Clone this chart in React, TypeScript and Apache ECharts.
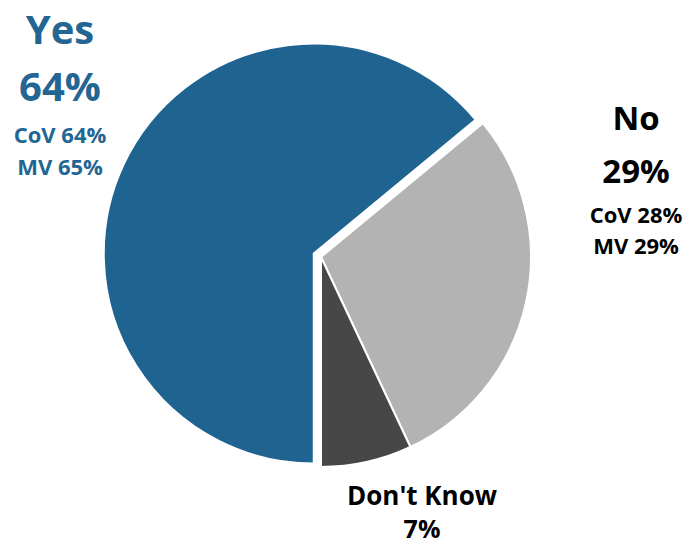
import React, { useEffect, useRef } from "react";
import * as echarts from "echarts";

const categories = ["Yes", "No", "Don't Know"];
const values = [64, 29, 7];
const covValues = [64, 28, null];
const mvValues = [65, 29, null];
const colors = ["#1F6391", "#B3B3B3", "#474747"];
const labelColors = ["#236593", "#000000", "#000000"];

export default function App() {
  const ref = useRef<HTMLDivElement>(null);
  useEffect(() => {
    if (!ref.current) return;
    const chart = echarts.init(ref.current, undefined, { renderer: "svg" });
    const font = "'Open Sans', sans-serif";
    const t = (text: string, x: number, y: number, size: number, color: string) => ({
      type: "text",
      x,
      y,
      style: {
        text,
        fontSize: size,
        fontWeight: "bold",
        fontFamily: font,
        fill: color,
        textAlign: "center",
        textVerticalAlign: "middle",
      },
    });
    const graphics: any[] = [
      t(categories[0], 60, 28, 40, labelColors[0]),
      t(values[0] + "%", 60, 85, 40, labelColors[0]),
      t("CoV " + covValues[0] + "%", 60, 134, 22, labelColors[0]),
      t("MV " + mvValues[0] + "%", 60, 166, 22, labelColors[0]),
      t(categories[1], 636, 117, 33, labelColors[1]),
      t(values[1] + "%", 636, 170, 33, labelColors[1]),
      t("CoV " + covValues[1] + "%", 636, 214, 22, labelColors[1]),
      t("MV " + mvValues[1] + "%", 636, 245, 22, labelColors[1]),
      t(categories[2], 422, 495, 26, labelColors[2]),
      t(values[2] + "%", 422, 528, 25, labelColors[2]),
    ];
    chart.setOption({
      animation: false,
      graphic: graphics,
      series: [
        {
          type: "pie",
          center: [321, 257],
          radius: [0, 210],
          startAngle: 270,
          clockwise: true,
          selectedMode: "multiple",
          selectedOffset: 8,
          label: { show: false },
          labelLine: { show: false },
          emphasis: { disabled: true },
          itemStyle: { borderColor: "#ffffff", borderWidth: 2 },
          data: categories.map((c, i) => ({
            name: c,
            value: values[i],
            selected: i === 0,
            itemStyle: { color: colors[i] },
          })),
        },
      ],
    });
    return () => chart.dispose();
  }, []);
  return (
    <div
      ref={ref}
      style={{ position: "absolute", left: 0, top: 0, width: 690, height: 545 }}
    />
  );
}
